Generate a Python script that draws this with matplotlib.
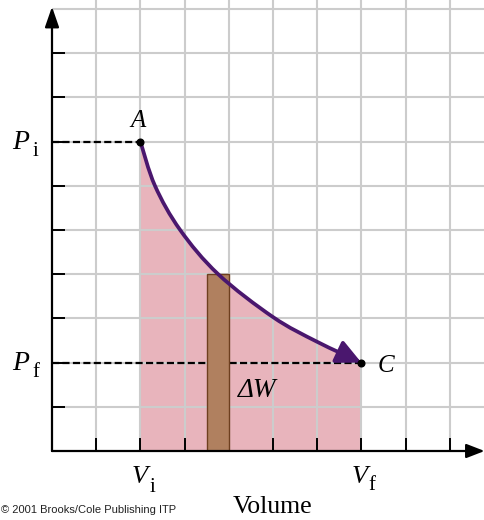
import numpy as np
import matplotlib
matplotlib.use("Agg")
import matplotlib.pyplot as plt
from matplotlib.path import Path
from matplotlib.patches import PathPatch, FancyArrowPatch

# ---- data ----
Vi, Vf = 2.0, 7.0          # initial / final volume (grid units)
Pi, Pf = 7.0, 2.0          # initial / final pressure (grid units)
curve_V = [2.0, 2.33, 2.9, 3.76, 5.0, 6.0, 7.0]
curve_P = [7.0, 6.0, 5.0, 4.0, 3.03, 2.47, 2.0]
strip_left, strip_right, strip_height = 3.5, 4.0, 4.0
grid_x = list(range(1, 10))
grid_y = list(range(1, 11))
tick_x = list(range(1, 10))
tick_y = list(range(1, 10))

# ---- figure geometry ----
W, H, DPI = 485, 520, 100
U = 44.2                      # pixels per grid unit
X0, Y0 = 52, 451              # pixel position of origin (from top-left)
fig = plt.figure(figsize=(W / DPI, H / DPI), dpi=DPI)
xmax = (W - X0) / U
ymax = Y0 / U
ax = fig.add_axes([X0 / W, (H - Y0) / H, (W - X0) / W, Y0 / H])
ax.set_xlim(0, xmax)
ax.set_ylim(0, ymax)
for s in ax.spines.values():
    s.set_visible(False)

serif = "Liberation Serif"

# grid
for gx in grid_x:
    ax.axvline(gx, color="#cccccc", lw=1.5, zorder=1.5)
for gy in grid_y:
    ax.axhline(gy, color="#cccccc", lw=1.5, zorder=1.5)

# smooth curve through read points (Catmull-Rom -> cubic Bezier)
pts = np.column_stack([curve_V, curve_P])
ext = np.vstack([pts[0], pts, pts[-1]])
verts = [tuple(pts[0])]
codes = [Path.MOVETO]
for i in range(len(pts) - 1):
    p0, p1, p2, p3 = ext[i], ext[i + 1], ext[i + 2], ext[i + 3]
    c1 = p1 + (p2 - p0) / 6.0
    c2 = p2 - (p3 - p1) / 6.0
    verts += [tuple(c1), tuple(c2), tuple(p2)]
    codes += [Path.CURVE4] * 3
curve_path = Path(verts, codes)

# pink work area
fill_verts = [(Vi, 0)] + verts + [(Vf, 0), (Vi, 0)]
fill_codes = [Path.MOVETO, Path.LINETO] + codes[1:] + [Path.LINETO, Path.CLOSEPOLY]
ax.add_patch(PathPatch(Path(fill_verts, fill_codes), facecolor="#e8b4bc",
                       edgecolor="none", zorder=1))

# dashed guide lines
ax.plot([0, Vi], [Pi, Pi], color="black", lw=1.6, dashes=(3.2, 1.5), zorder=2)
ax.plot([0, Vf], [Pf, Pf], color="black", lw=1.6, dashes=(3.2, 1.5), zorder=2)

# strip dW
ax.bar([(strip_left + strip_right) / 2], [strip_height], width=strip_right - strip_left,
       color="#b0805f", edgecolor="#6e3f1f", linewidth=1.0, zorder=3)

# process curve with arrow (tip stops just short of C)
arr = FancyArrowPatch(path=curve_path, arrowstyle="-|>,head_length=1.5,head_width=0.72",
                      mutation_scale=10, color="#4a176e", lw=2.7, zorder=4,
                      transform=ax.transData)
ax.add_patch(arr)

# end points
ax.plot([Vi, Vf], [Pi, Pf], "o", color="black", ms=4.8, zorder=5)

# axes with arrows
ax.annotate("", xy=(0, 10.05), xytext=(0, 0), xycoords="data",
            arrowprops=dict(arrowstyle="-|>,head_length=0.95,head_width=0.33",
                            mutation_scale=13, color="black", lw=1.6,
                            shrinkA=0, shrinkB=0), zorder=6, annotation_clip=False)
ax.annotate("", xy=(xmax - 0.01, 0), xytext=(0, 0), xycoords="data",
            arrowprops=dict(arrowstyle="-|>,head_length=0.85,head_width=0.33",
                            mutation_scale=13, color="black", lw=1.6,
                            shrinkA=0, shrinkB=0), zorder=6, annotation_clip=False)

ax.set_axisbelow(False)
ax.set_xticks(tick_x)
ax.set_yticks(tick_y)
ax.set_xticklabels([])
ax.set_yticklabels([])
ax.tick_params(direction="in", length=9.5, width=1.4, color="black")

# labels
def lab(x, y, s, size, style="italic", ha="left"):
    ax.text(x, y, s, fontsize=size, family=serif, style=style, ha=ha,
            va="baseline", clip_on=False, zorder=7)

lab(-0.90, Pi - 0.17, "P", 20)
lab(-0.45, Pi - 0.33, "i", 15, style="normal")
lab(-0.90, Pf - 0.17, "P", 20)
lab(-0.45, Pf - 0.33, "f", 15, style="normal")
lab(Vi - 0.19, -0.72, "V", 19)
lab(Vi + 0.20, -0.93, "i", 15, style="normal")
lab(Vf - 0.21, -0.72, "V", 19)
lab(Vf + 0.15, -0.88, "f", 15, style="normal")
lab(Vi - 0.05, Pi + 0.33, "A", 18, ha="center")
lab(Vf + 0.36, Pf - 0.21, "C", 18)
lab(4.21, 1.22, "ΔW", 19.5)
lab(5.0, -1.40, "Volume", 18.5, style="normal", ha="center")

fig.text(0.002, 1 - 513 / H, "© 2001 Brooks/Cole Publishing ITP", fontsize=8,
         family="Liberation Sans", color="#222222", ha="left", va="baseline")

fig.savefig("out.png", dpi=DPI)
